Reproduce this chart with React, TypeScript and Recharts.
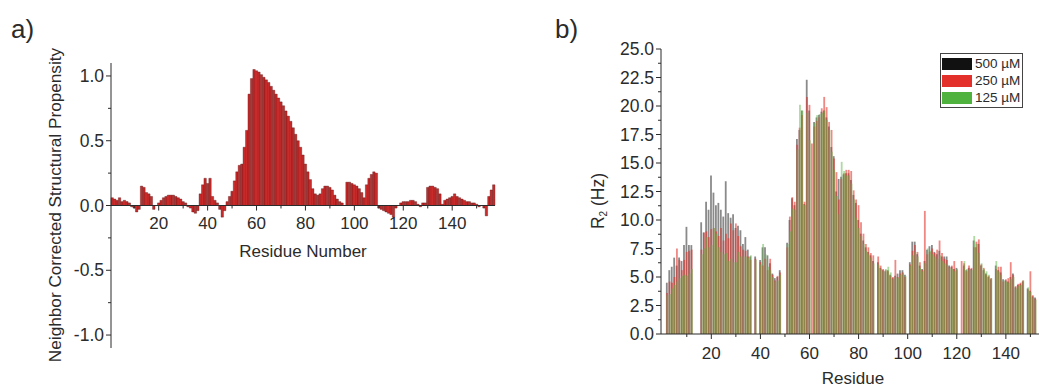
import { BarChart, Bar, XAxis, YAxis, ReferenceLine, Legend } from 'recharts'

const FONT = '"Liberation Sans", Arial, sans-serif'
const INK = '#2b2b2b'

// (a) neighbor corrected structural propensity, residues 1-157
const PROPENSITY = [
  0.06, 0.05, 0.04, 0.06, 0.03, 0.04, 0.03, 0.02, -0.01, -0.02,
  -0.05, -0.03, 0.15, 0.14, 0.1, 0.09, 0.07, -0.03, 0.0, 0.02,
  0.04, 0.06, 0.07, 0.08, 0.08, 0.08, 0.07, 0.06, 0.05, 0.03,
  0.02, -0.01, -0.02, -0.05, -0.06, -0.04, 0.09, 0.16, 0.21, 0.17,
  0.21, 0.07, 0.04, 0.02, -0.03, -0.09, -0.04, 0.03, 0.07, 0.11,
  0.19, 0.26, 0.31, 0.32, 0.45, 0.58, 0.86, 0.98, 1.05, 1.04,
  1.03, 1.01, 0.99, 0.97, 0.95, 0.92, 0.89, 0.86, 0.83, 0.8,
  0.77, 0.73, 0.69, 0.65, 0.6, 0.55, 0.5, 0.45, 0.39, 0.32,
  0.26, 0.2, 0.13, 0.09, 0.08, 0.09, 0.13, 0.15, 0.15, 0.14,
  0.12, 0.08, 0.05, 0.03, 0.02, 0.0, 0.18, 0.18, 0.17, 0.16,
  0.15, 0.13, 0.1, 0.06, 0.16, 0.21, 0.24, 0.26, 0.25, -0.02,
  -0.03, -0.04, -0.05, -0.06, -0.07, -0.09, -0.02, 0.0, 0.02, 0.03,
  0.03, 0.03, 0.04, 0.04, 0.03, 0.01, -0.01, 0.02, 0.02, 0.14,
  0.15, 0.15, 0.14, 0.13, 0.09, 0.01, 0.04, 0.05, 0.06, 0.07,
  0.09, 0.07, 0.06, 0.05, 0.04, 0.03, 0.03, 0.02, 0.02, 0.01,
  -0.01, 0.0, -0.02, -0.08, 0.07, 0.12, 0.16,
]
const PROP_Y_TICKS = [-1, -0.75, -0.5, -0.25, 0, 0.25, 0.5, 0.75, 1]
const PROP_X_TICKS = [10, 20, 30, 40, 50, 60, 70, 80, 90, 100, 110, 120, 130, 140, 150]

// (b) R2 per residue (index = residue number, 0-153), null = not assigned
const R2_500 = [
  null, null, 4.5, 5.6, 5.9, 6.7, 6.0, 6.7, 6.4, 7.8,
  9.4, 7.8, 7.8, null, null, null, 9.8, 8.9, 11.6, 10.9,
  13.9, 12.4, 11.3, 11.5, 10.9, 10.3, 13.4, 10.6, 10.2, 10.5,
  9.3, 9.5, 9.1, 7.9, 8.5, 7.4, 6.8, null, 6.8, null,
  6.5, 7.6, 7.6, 6.9, 6.2, 5.3, 4.9, 5.0, 5.6, null,
  null, 8.0, 10.0, 11.9, 11.3, 17.1, 17.9, 19.6, 11.4, 22.3,
  19.6, null, 18.6, 19.0, 19.2, 19.5, 19.6, 19.0, 18.2, 16.4,
  15.6, 12.5, 13.6, 13.8, 14.0, 14.1, 14.1, 13.5, 12.2, 11.5,
  10.0, 8.8, 8.2, 7.6, 7.2, 6.9, 6.4, null, 6.3, 5.8,
  5.6, 5.5, 5.6, 5.2, 4.9, 5.1, 5.3, 5.6, 5.6, 5.2,
  null, 6.3, 8.1, 8.1, 7.0, 6.0, 5.7, 6.4, 7.4, 7.7,
  7.8, 7.2, 7.0, 7.3, 6.8, 6.8, 6.8, 6.0, 5.9, 5.7,
  5.8, null, null, 6.0, 5.6, 5.8, 5.7, 8.2, 7.6, 7.9,
  6.0, 5.6, 5.3, 5.0, 4.8, null, 6.0, 5.6, 5.4, 4.8,
  4.7, 4.6, 5.0, 5.3, 4.1, 4.3, 4.4, 4.6, null, 4.0,
  3.8, 3.3, 3.2, null,
]
const R2_250 = [
  null, null, 3.6, 4.6, 4.5, 5.0, 7.5, 6.5, 5.6, 6.5,
  7.2, 7.3, 7.4, null, null, null, 7.4, 8.9, 9.0, 8.5,
  9.2, 9.3, 9.0, 8.6, 9.3, 8.2, 8.8, 8.4, 9.7, 9.1,
  9.7, 8.6, 7.7, 7.4, 7.3, 6.8, 6.5, null, 6.6, null,
  6.3, 6.0, 6.6, 5.6, 6.6, 5.2, 4.7, 5.1, 5.4, null,
  null, 7.6, 10.3, 12.0, 11.6, 16.6, 18.1, 19.2, 11.6, 20.8,
  20.1, 16.7, 18.2, 18.7, 19.0, 19.8, 20.8, 19.9, 18.6, 17.9,
  15.4, 14.2, 11.8, 13.6, 14.1, 14.4, 14.4, 14.3, 12.6, 11.8,
  11.3, 9.8, 8.8, 7.9, 7.6, 7.1, 6.9, null, 6.8, 6.0,
  5.7, 5.6, 5.5, 5.1, 5.0, 6.5, 5.0, 5.3, 5.4, 5.0,
  null, 6.1, 7.3, 7.8, 7.2, 6.3, 5.6, 10.8, 7.0, 7.2,
  7.5, 7.1, 7.4, 8.2, 7.1, 6.6, 6.5, 5.9, 6.0, 6.4,
  5.6, null, 6.4, 6.2, 5.5, 6.0, 5.8, 7.6, 8.1, 8.3,
  6.1, 5.8, 5.2, 5.1, 4.9, null, 5.7, 5.9, 5.9, 4.6,
  4.8, 4.9, 6.3, 5.2, 4.2, 4.4, 4.5, 4.7, null, 3.9,
  5.5, 3.4, 3.1, null,
]
const R2_125 = [
  null, null, 3.4, 3.5, 4.0, 4.3, 4.6, 4.9, 5.1, 5.2,
  5.1, 5.3, 5.7, null, null, null, 7.0, 7.5, 8.5, 7.6,
  7.8, 9.3, 8.8, 7.6, 7.2, 7.0, 7.1, 6.4, 6.6, 6.3,
  6.3, 7.2, 6.8, 6.8, 6.8, 6.7, 6.9, null, 6.5, null,
  6.1, 7.9, 7.0, 5.9, 5.6, 5.0, 4.6, 4.7, 5.2, null,
  null, 7.9, 9.0, 11.0, 10.9, 16.2, 20.1, 19.6, 11.3, 19.4,
  17.0, null, 18.5, 19.2, 19.3, 19.4, 19.6, 18.8, 17.9, 16.0,
  14.4, 12.1, 10.5, 15.1, 14.3, 13.9, 13.9, 13.2, 11.8, 10.2,
  9.3, 8.6, 7.9, 7.3, 7.0, 6.7, 6.2, null, 6.1, 5.7,
  5.5, 5.7, 5.9, 5.4, 4.8, 5.0, 4.9, 5.2, 5.3, 5.1,
  null, 6.0, 6.9, 7.2, 6.8, 5.8, 5.5, 6.2, 7.5, 7.3,
  7.0, 6.8, 6.6, 6.9, 6.4, 6.2, 6.1, 5.8, 5.7, 5.5,
  5.7, null, null, 6.4, 5.7, 5.6, 5.6, 8.6, 7.9, 7.1,
  6.2, 5.7, 5.5, 5.2, 4.9, null, 6.4, 5.5, 5.2, 4.7,
  4.6, 4.5, 4.8, 5.0, 4.0, 4.2, 4.3, 4.7, null, 4.1,
  3.7, 3.2, 3.0, null,
]
const R2_Y_TICKS = [
  0, 1.25, 2.5, 3.75, 5, 6.25, 7.5, 8.75, 10, 11.25, 12.5, 13.75, 15,
  16.25, 17.5, 18.75, 20, 21.25, 22.5, 23.75, 25,
]
const R2_X_TICKS = [10, 20, 30, 40, 50, 60, 70, 80, 90, 100, 110, 120, 130, 140, 150]

const R2_SERIES = [
  { key: 'c500', name: '500 \u00b5M', color: '#161616', swatch: '#111111', opacity: 0.5 },
  { key: 'c250', name: '250 \u00b5M', color: '#e3302a', swatch: '#e3302a', opacity: 0.58 },
  { key: 'c125', name: '125 \u00b5M', color: '#5db443', swatch: '#4fb23e', opacity: 0.5 },
]

const propData = PROPENSITY.map((v, i) => ({ res: i + 1, v }))
const r2Data = R2_500.map((v, i) => ({
  res: i,
  c500: v,
  c250: R2_250[i],
  c125: R2_125[i],
}))

const isMajor = (v: number, step: number) =>
  Math.abs(v / step - Math.round(v / step)) < 1e-6

// y tick: text sits tickSize + tickMargin (5 + 2) left of the axis line
function LeftTick(props: any) {
  const { x, y, payload, step, fontSize } = props
  const value = payload.value as number
  const major = isMajor(value, step)
  const axisX = x + 7
  return (
    <g>
      <line x1={axisX - (major ? 5 : 3)} x2={axisX} y1={y} y2={y} stroke={INK} />
      {major && (
        <text x={x} y={y} dy="0.35em" textAnchor="end" fontSize={fontSize} fill={INK} fontFamily={FONT}>
          {value.toFixed(1)}
        </text>
      )}
    </g>
  )
}

// x tick: text sits tickSize + tickMargin (5 + 8) below the axis line
function BottomTick(props: any) {
  const { x, y, payload } = props
  const value = payload.value as number
  const major = value % 20 === 0
  const axisY = y - 13
  return (
    <g>
      <line x1={x} x2={x} y1={axisY} y2={axisY + (major ? 5 : 3)} stroke={INK} />
      {major && (
        <text x={x} y={y} dy="0.71em" textAnchor="middle" fontSize={17} fill={INK} fontFamily={FONT}>
          {value}
        </text>
      )}
    </g>
  )
}

function PropensityChart() {
  return (
    <BarChart
      width={520}
      height={387}
      data={propData}
      margin={{ top: 63, right: 25, bottom: 39, left: 0 }}
      barCategoryGap={0}
      barSize={2.4}
    >
      <XAxis dataKey="res" type="category" hide />
      <YAxis
        type="number"
        domain={[-1.1, 1.1]}
        ticks={PROP_Y_TICKS}
        interval={0}
        width={111}
        tickSize={5}
        tickMargin={2}
        tickLine={false}
        axisLine={{ stroke: INK }}
        tick={(p: any) => <LeftTick {...p} step={0.5} fontSize={17.5} />}
      />
      <Bar
        dataKey="v"
        fill="#c92a2a"
        stroke="#4a0c0c"
        strokeWidth={0.35}
        isAnimationActive={false}
      />
      <ReferenceLine y={0} stroke={INK} />
      {/* axis crosses at zero, so its ticks hang from the zero line */}
      {PROP_X_TICKS.map((t) => {
        const major = t % 20 === 0
        return (
          <ReferenceLine
            key={t}
            segment={[
              { x: t, y: 0 },
              { x: t, y: major ? -0.039 : -0.023 },
            ]}
            stroke={INK}
            label={
              major
                ? { value: String(t), position: 'bottom', offset: 6, fontSize: 17, fill: INK }
                : undefined
            }
          />
        )
      })}
    </BarChart>
  )
}

function R2Legend() {
  return (
    <div
      style={{
        border: '1px solid #444',
        background: '#fff',
        padding: '1px 2px 1px 1px',
        fontSize: 13.5,
        color: INK,
        lineHeight: '17px',
      }}
    >
      {R2_SERIES.map((s) => (
        <div key={s.key} style={{ display: 'flex', alignItems: 'center', height: 17 }}>
          <span style={{ width: 30, height: 12, background: s.swatch, marginRight: 3 }} />
          <span style={{ whiteSpace: 'nowrap' }}>{s.name}</span>
        </div>
      ))}
    </div>
  )
}

function R2Chart() {
  return (
    <BarChart
      width={499}
      height={387}
      data={r2Data}
      margin={{ top: 49, right: 0, bottom: 33, left: 0 }}
      barCategoryGap={0}
      barSize={1.8}
      barGap={-1.5}
    >
      <XAxis
        dataKey="res"
        type="category"
        ticks={R2_X_TICKS}
        interval={0}
        height={20}
        tickSize={5}
        tickMargin={8}
        tickLine={false}
        axisLine={{ stroke: INK }}
        tick={(p: any) => <BottomTick {...p} />}
      />
      <YAxis
        type="number"
        domain={[0, 25]}
        ticks={R2_Y_TICKS}
        interval={0}
        width={121}
        tickSize={5}
        tickMargin={2}
        tickLine={false}
        axisLine={{ stroke: INK }}
        tick={(p: any) => <LeftTick {...p} step={2.5} fontSize={17.5} />}
      />
      <Legend
        layout="horizontal"
        verticalAlign="middle"
        align="center"
        wrapperStyle={{ left: 400, top: 53, width: 'auto' }}
        content={() => <R2Legend />}
      />
      {R2_SERIES.map((s) => (
        <Bar
          key={s.key}
          dataKey={s.key}
          name={s.name}
          fill={s.color}
          fillOpacity={s.opacity}
          isAnimationActive={false}
        />
      ))}
    </BarChart>
  )
}

const text = (extra: React.CSSProperties): React.CSSProperties => ({
  position: 'absolute',
  whiteSpace: 'nowrap',
  color: INK,
  ...extra,
})

export default function App() {
  return (
    <div
      style={{
        position: 'fixed',
        left: 0,
        top: 0,
        width: 1039,
        height: 387,
        overflow: 'hidden',
        background: '#fff',
        fontFamily: FONT,
      }}
    >
      <div style={{ position: 'absolute', left: 0, top: 0 }}>
        <PropensityChart />
      </div>
      <div style={{ position: 'absolute', left: 540, top: 0 }}>
        <R2Chart />
      </div>

      <div style={text({ left: 11, top: 16, fontSize: 26, lineHeight: '26px' })}>a)</div>
      <div style={text({ left: 555, top: 16, fontSize: 26, lineHeight: '26px' })}>b)</div>

      <div
        style={text({
          left: 55,
          top: 205,
          fontSize: 17.2,
          lineHeight: '17px',
          transform: 'translate(-50%, -50%) rotate(-90deg)',
        })}
      >
        Neighbor Corrected Structural Propensity
      </div>
      <div style={text({ left: 303, top: 244, fontSize: 17, lineHeight: '16px', transform: 'translateX(-50%)' })}>
        Residue Number
      </div>

      <div
        style={text({
          left: 601,
          top: 201,
          fontSize: 17.5,
          lineHeight: '17px',
          transform: 'translate(-50%, -50%) rotate(-90deg)',
        })}
      >
        R<sub style={{ fontSize: 10, verticalAlign: -3 }}>2</sub> (Hz)
      </div>
      <div style={text({ left: 853, top: 371, fontSize: 17, lineHeight: '16px', transform: 'translateX(-50%)' })}>
        Residue
      </div>
    </div>
  )
}
